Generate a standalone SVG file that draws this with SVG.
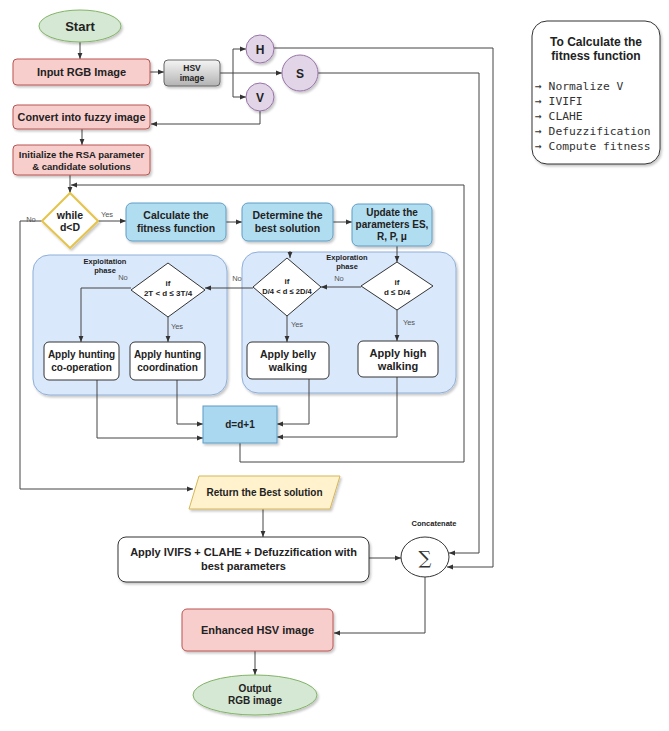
<svg xmlns="http://www.w3.org/2000/svg" width="669" height="731" viewBox="0 0 669 731">
<defs>
<marker id="ah" viewBox="0 0 10 10" refX="10" refY="5" markerWidth="6" markerHeight="6" orient="auto" markerUnits="userSpaceOnUse">
<path d="M0,1 L10,5 L0,9 Z" fill="#333"/>
</marker>
<linearGradient id="gray" x1="0" y1="0" x2="0" y2="1">
<stop offset="0" stop-color="#f5f5f5"/>
<stop offset="1" stop-color="#b3b3b3"/>
</linearGradient>
<filter id="sh" x="-10%" y="-10%" width="130%" height="140%">
<feDropShadow dx="1.5" dy="2" stdDeviation="1.2" flood-color="#000" flood-opacity="0.22"/>
</filter>
<style>
text{font-family:"Liberation Sans",Arial,sans-serif;fill:#222;text-anchor:middle}
.b{font-weight:bold}
.pink{fill:#f8cecc;stroke:#b85450;stroke-width:1}
.green{fill:#d5e8d4;stroke:#82b366;stroke-width:1}
.blue{fill:#b1ddf0;stroke:#5f9cc5;stroke-width:1}
.panel{fill:#dae8fc;stroke:#8eaed6;stroke-width:1}
.purple{fill:#e1d5e7;stroke:#9673a6;stroke-width:1}
.white{fill:#fff;stroke:#333;stroke-width:1}
.e{fill:none;stroke:#444;stroke-width:1;marker-end:url(#ah)}
.l{fill:none;stroke:#555;stroke-width:1}
.lbl{font-size:7.5px;fill:#555}
.mono{font-family:"DejaVu Sans Mono","Liberation Mono",monospace;font-size:11.3px;text-anchor:start;fill:#333}
</style>
</defs>
<rect width="669" height="731" fill="#fff"/>

<!-- panels -->
<g id="exploitation-phase">
<rect class="panel" x="33" y="255" width="194" height="140" rx="16" filter="url(#sh)"/>
<text class="b" x="105" y="264" font-size="7.5">Exploitation</text>
<text class="b" x="105" y="273" font-size="7.5">phase</text>
</g>
<g id="exploration-phase">
<rect class="panel" x="242" y="252" width="214" height="141" rx="16" filter="url(#sh)"/>
<text class="b" x="347" y="260" font-size="7.5">Exploration</text>
<text class="b" x="347" y="269" font-size="7.5">phase</text>
</g>

<!-- connectors -->
<g id="connectors">
<path class="e" d="M80,42 V59"/>
<path class="e" d="M150,72 H164"/>
<path class="e" d="M220,73 H233 V49 H246"/>
<path class="e" d="M233,73 V97 H246"/>
<path class="e" d="M233,73 H282"/>
<path class="e" d="M274,48 H493 V567 H447"/>
<path class="e" d="M318,73 H479 V553 H449"/>
<path class="e" d="M260,111 V124 H151"/>
<path class="e" d="M82,129 V145"/>
<path class="e" d="M70,175 V193"/>
<path class="e" d="M240,443 V462 H464 V185 H71"/>
<path class="e" d="M98,221 H126"/>
<path class="e" d="M42,221 H20 V489 H193"/>
<path class="e" d="M226,222 H242"/>
<path class="e" d="M333,222 H352"/>
<path class="e" d="M397,246 V262"/>
<path class="e" d="M290,251 V258"/>
<path class="e" d="M361,287 H321"/>
<path class="e" d="M253,288 H205"/>
<path class="e" d="M131,288 H81 V342"/>
<path class="e" d="M168,317 V342"/>
<path class="e" d="M287,316 V342"/>
<path class="e" d="M397,310 V341"/>
<path class="e" d="M177,380 V424 H203"/>
<path class="e" d="M97,380 V438 H203"/>
<path class="e" d="M309,379 V424 H277"/>
<path class="e" d="M397,377 V437 H277"/>
<path class="e" d="M263,509 V537"/>
<path class="e" d="M369,558 H401"/>
<path class="e" d="M425,577 V633 H334"/>
<path class="e" d="M255,651 V675"/>
<text class="lbl" x="107" y="217">Yes</text>
<text class="lbl" x="31" y="222">No</text>
<text class="lbl" x="339" y="281">No</text>
<text class="lbl" x="237" y="281">No</text>
<text class="lbl" x="123" y="280">No</text>
<text class="lbl" x="177" y="329">Yes</text>
<text class="lbl" x="297" y="327">Yes</text>
<text class="lbl" x="409" y="325">Yes</text>
</g>

<g id="start">
<ellipse class="green" cx="80" cy="26" rx="41" ry="16" filter="url(#sh)"/>
<text class="b" x="80" y="31" font-size="13">Start</text>
</g>
<g id="input-rgb">
<rect class="pink" x="13" y="59" width="137" height="26" rx="4" filter="url(#sh)"/>
<text class="b" x="81.5" y="76" font-size="11">Input RGB Image</text>
</g>
<g id="hsv-image">
<rect x="164" y="60" width="56" height="26" rx="4" fill="url(#gray)" stroke="#666" filter="url(#sh)"/>
<text class="b" x="192" y="71" font-size="8.5">HSV</text>
<text class="b" x="192" y="81" font-size="8.5">image</text>
</g>
<g id="h">
<circle class="purple" cx="260" cy="49" r="14" filter="url(#sh)"/>
<text class="b" x="260" y="53.5" font-size="12">H</text>
</g>
<g id="s">
<circle class="purple" cx="300" cy="73" r="18" filter="url(#sh)"/>
<text class="b" x="300" y="77.5" font-size="12">S</text>
</g>
<g id="v">
<circle class="purple" cx="260" cy="97" r="14" filter="url(#sh)"/>
<text class="b" x="260" y="101.5" font-size="12">V</text>
</g>
<g id="convert-fuzzy">
<rect class="pink" x="13" y="105" width="137" height="24" rx="4" filter="url(#sh)"/>
<text class="b" x="81.5" y="121" font-size="10.8">Convert into fuzzy image</text>
</g>
<g id="initialize">
<rect class="pink" x="13" y="145" width="137" height="30" rx="4" filter="url(#sh)"/>
<text class="b" x="81.5" y="158" font-size="9.5">Initialize the RSA parameter</text>
<text class="b" x="81.5" y="170" font-size="9.5">&amp; candidate solutions</text>
</g>
<g id="while">
<path d="M70,193 L98,221 L70,248 L42,221 Z" fill="#fff" stroke="#e6c34a" stroke-width="2" stroke-linejoin="round" filter="url(#sh)"/>
<text class="b" x="70" y="219" font-size="10.5">while</text>
<text class="b" x="70" y="231" font-size="10.5">d&lt;D</text>
</g>
<g id="calc-fitness">
<rect class="blue" x="126" y="203" width="100" height="38" rx="6" filter="url(#sh)"/>
<text class="b" x="176" y="219" font-size="10.5">Calculate the</text>
<text class="b" x="176" y="232" font-size="10.5">fitness function</text>
</g>
<g id="determine-best">
<rect class="blue" x="242" y="203" width="91" height="38" rx="6" filter="url(#sh)"/>
<text class="b" x="287.5" y="219" font-size="10.5">Determine the</text>
<text class="b" x="287.5" y="232" font-size="10.5">best solution</text>
</g>
<g id="update-params">
<rect class="blue" x="352" y="204" width="80" height="42" rx="6" filter="url(#sh)"/>
<text class="b" x="392" y="216" font-size="10">Update the</text>
<text class="b" x="392" y="228" font-size="10">parameters ES,</text>
<text class="b" x="392" y="240" font-size="10">R, P, μ</text>
</g>
<g id="if-d-le-D4">
<path d="M397,262 L433,286 L397,310 L361,286 Z" class="white" stroke-linejoin="round"/>
<text class="b" x="397" y="285" font-size="8">if</text>
<text class="b" x="397" y="295" font-size="8">d ≤ D/4</text>
</g>
<g id="if-D4-2D4">
<path d="M287,258 L321,287 L287,316 L253,287 Z" class="white" stroke-linejoin="round"/>
<text class="b" x="287" y="284" font-size="8">if</text>
<text class="b" x="287" y="294" font-size="7.6">D/4 &lt; d ≤ 2D/4</text>
</g>
<g id="if-2T-3T4">
<path d="M168,263 L205,290 L168,317 L131,290 Z" class="white" stroke-linejoin="round"/>
<text class="b" x="168" y="286" font-size="8">if</text>
<text class="b" x="168" y="296" font-size="8">2T &lt; d ≤ 3T/4</text>
</g>
<g id="hunting-cooperation">
<rect class="white" x="44" y="342" width="75" height="38" rx="5"/>
<text class="b" x="81.5" y="358" font-size="10">Apply hunting</text>
<text class="b" x="81.5" y="371" font-size="10">co-operation</text>
</g>
<g id="hunting-coordination">
<rect class="white" x="130" y="342" width="75" height="38" rx="5"/>
<text class="b" x="167.5" y="358" font-size="10">Apply hunting</text>
<text class="b" x="167.5" y="371" font-size="10">coordination</text>
</g>
<g id="belly-walking">
<rect class="white" x="247" y="342" width="82" height="37" rx="5"/>
<text class="b" x="288" y="358" font-size="10.5">Apply belly</text>
<text class="b" x="288" y="371" font-size="10.5">walking</text>
</g>
<g id="high-walking">
<rect class="white" x="358" y="341" width="80" height="36" rx="5"/>
<text class="b" x="398" y="357" font-size="11">Apply high</text>
<text class="b" x="398" y="370" font-size="11">walking</text>
</g>
<g id="d-increment">
<rect x="203" y="406" width="74" height="37" fill="#a9d8f0" stroke="#5f9cc5" filter="url(#sh)"/>
<text class="b" x="240" y="428" font-size="10">d=d+1</text>
</g>
<g id="return-best">
<path d="M199,476 H340 L330,509 H189 Z" fill="#fff2cc" stroke="#d6b656" filter="url(#sh)"/>
<text class="b" x="264.5" y="496" font-size="10">Return the Best solution</text>
</g>
<g id="apply-ivifs">
<rect class="white" x="118" y="537" width="251" height="45" rx="8" filter="url(#sh)"/>
<text class="b" x="243.5" y="556" font-size="11">Apply IVIFS + CLAHE + Defuzzification with</text>
<text class="b" x="243.5" y="570" font-size="11">best parameters</text>
</g>
<g id="concatenate">
<ellipse class="white" cx="425" cy="557" rx="24" ry="20"/>
<text x="425" y="564" font-size="18" style="font-family:'DejaVu Serif','Liberation Serif',serif;fill:#333">∑</text>
<text class="b" x="434" y="526" font-size="7.5">Concatenate</text>
</g>
<g id="enhanced-hsv">
<rect class="pink" x="182" y="609" width="151" height="42" rx="5" filter="url(#sh)"/>
<text class="b" x="257.5" y="634" font-size="11">Enhanced HSV image</text>
</g>
<g id="output">
<ellipse class="green" cx="255" cy="695" rx="62" ry="20" filter="url(#sh)"/>
<text class="b" x="255" y="692" font-size="10">Output</text>
<text class="b" x="255" y="704" font-size="10">RGB image</text>
</g>
<g id="fitness-note">
<rect x="532" y="21" width="128" height="143" rx="15" fill="#fff" stroke="#333" filter="url(#sh)"/>
<text class="b" x="596" y="46" font-size="12">To Calculate the</text>
<text class="b" x="596" y="60" font-size="12">fitness function</text>
<text class="mono" x="535" y="90">→ Normalize V</text>
<text class="mono" x="535" y="105">→ IVIFI</text>
<text class="mono" x="535" y="120">→ CLAHE</text>
<text class="mono" x="535" y="135">→ Defuzzification</text>
<text class="mono" x="535" y="150">→ Compute fitness</text>
</g>
</svg>
